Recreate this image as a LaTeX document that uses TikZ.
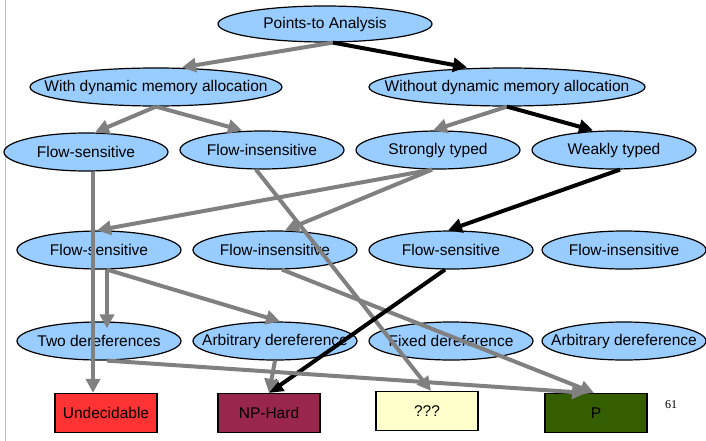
\documentclass[tikz,border=0pt]{standalone}
\usepackage{fontspec}
\setmainfont{Liberation Sans}
\newfontfamily\pagenumfont{Liberation Serif}
\usetikzlibrary{shapes, arrows.meta, positioning}
\definecolor{skyfill}{HTML}{99CCFF}
\definecolor{edgegray}{HTML}{808080}
\definecolor{undecred}{HTML}{FF3333}
\definecolor{npmaroon}{HTML}{99264D}
\definecolor{unknownyellow}{HTML}{FFFFCC}
\definecolor{polygreen}{HTML}{355E00}

\begin{document}
\begin{tikzpicture}[x=1pt, y=-1pt,
              every node/.style = {font=\fontsize{15.5}{18}\selectfont},
              kind/.style = {shape=ellipse, draw, line width=1.2pt,
                fill=skyfill, minimum width=164pt, minimum height=38pt,
                inner sep=0pt,
                execute at begin node={\hbox to 0pt\bgroup\hss},
                execute at end node={\hss\egroup}},
              verdict/.style = {shape=rectangle, draw, line width=1.2pt,
                minimum width=102pt, minimum height=39pt, inner sep=0pt},
              maybe/.style = {draw=edgegray, line width=4pt,
                -{Triangle[length=14pt,width=14pt]}},
              chosen/.style = {maybe, draw=black}]
  \useasboundingbox (0,0) rectangle (706,441);
  \draw[black!25, line width=0.8pt] (5.5,0) -- (5.5,441);

  % classes of analyses
  \node[kind, minimum width=214pt, minimum height=36pt] (pta) at (325,24) {Points-to Analysis};
  \node[kind, minimum width=252pt] (with) at (156,87) {With dynamic memory allocation};
  \node[kind, minimum width=276pt] (without) at (507,87) {Without dynamic memory allocation};
  \node[kind] (fsA) at (86,152) {Flow-sensitive};
  \node[kind] (fiA) at (262,150) {Flow-insensitive};
  \node[kind] (strong) at (438,150) {Strongly typed};
  \node[kind] (weak) at (614,150) {Weakly typed};
  \node[kind] (fsB) at (99,250) {Flow-sensitive};
  \node[kind] (fiB) at (275,250) {Flow-insensitive};
  \node[kind] (fsC) at (451,250) {Flow-sensitive};
  \node[kind] (fiC) at (624,250) {Flow-insensitive};
  \node[kind] (twoderef) at (99,341) {Two dereferences};
  \node[kind] (arbB) at (275,341) {Arbitrary dereference};
  \node[kind] (fixed) at (451,341) {Fixed dereference};
  \node[kind] (arbC) at (624,341) {Arbitrary dereference};

  % complexity results
  \node[verdict, fill=undecred] (undec) at (106,413) {Undecidable};
  \node[verdict, fill=npmaroon] (nphard) at (269,413) {NP-Hard};
  \node[verdict, fill=unknownyellow] (unknown) at (427,411) {???};
  \node[verdict, fill=polygreen] (poly) at (596,413) {P};
  \node[font=\pagenumfont\fontsize{12}{14}\selectfont] (pagenum) at (671,405) {61};

  % refinements
  \draw[maybe] ([xshift=8pt]pta.south) -- ([xshift=26pt]with.north);
  \draw[chosen] ([xshift=8pt]pta.south) -- ([xshift=-40pt]without.north);
  \draw[maybe] (with.south) -- ([xshift=9pt]fsA.north);
  \draw[maybe] (with.south) -- ([xshift=-20pt]fiA.north);
  \draw[maybe] (without.south) -- ([xshift=-5pt]strong.north);
  \draw[chosen] (without.south) -- ([xshift=-21pt]weak.north);
  \draw[maybe] ([xshift=7pt]fsA.south) -- ([xshift=-13pt]undec.north);
  \draw[maybe] ([xshift=-6pt]fiA.south) -- ([xshift=4pt]unknown.north);
  \draw[maybe] ([xshift=-6pt]strong.south) -- ([xshift=-2pt]fsB.north);
  \draw[maybe] ([xshift=-6pt]strong.south) -- ([xshift=10pt]fiB.north);
  \draw[chosen] ([xshift=6pt]weak.south) -- ([xshift=-3pt]fsC.north);
  \draw[maybe] ([xshift=8pt]fsB.south) -- ([xshift=8pt,yshift=-7pt]twoderef.north);
  \draw[maybe] ([xshift=8pt]fsB.south) -- ([xshift=5pt]arbB.north);
  \draw[maybe] ([xshift=7pt]fiB.south) -- ([xshift=-2pt]poly.north);
  \draw[chosen] ([xshift=-6pt]fsC.south) -- (nphard.north);
  \draw[maybe] ([xshift=8pt]twoderef.south) -- ([xshift=-10pt]poly.north);
  \draw[maybe] (arbB.south) -- (nphard.north);
\end{tikzpicture}
\end{document}
